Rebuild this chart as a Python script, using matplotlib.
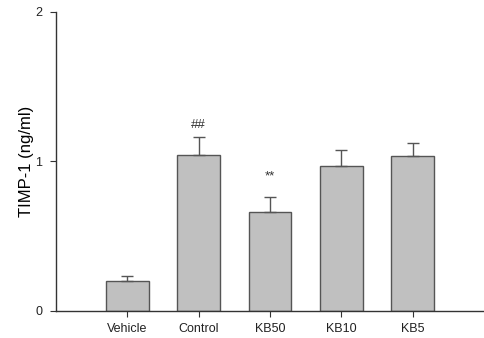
import matplotlib
matplotlib.use("Agg")
import matplotlib.pyplot as plt
import numpy as np

plt.rcParams['font.family'] = ['Liberation Sans', 'DejaVu Sans']

groups = ["Vehicle", "Control", "KB50", "KB10", "KB5"]
timp1 = [0.20, 1.045, 0.662, 0.968, 1.037]
sem = [0.034, 0.121, 0.098, 0.109, 0.087]
marks = ["", "##", "**", "", ""]

fig = plt.figure(figsize=(4.84, 3.38), dpi=100)
ax = fig.add_axes([0.1157, 0.080, 0.8843, 0.885])

x = np.arange(len(groups))
ax.bar(x, timp1, width=0.6, color="#c0c0c0", edgecolor="#555555", linewidth=1.0, zorder=2)
ax.errorbar(x, timp1, yerr=[np.zeros(len(sem)), sem], fmt="none",
            ecolor="#555555", elinewidth=1.0, capsize=4, capthick=1.0, zorder=3)

# significance marks above the error bars
gap = {"##": 0.08, "**": 0.14}
for xi, v, e, m in zip(x, timp1, sem, marks):
    if m:
        ax.text(xi, v + e + gap[m], m, ha="center", va="center", fontsize=9.5, color="#333333")

ax.set_xlim(-1, 5)
ax.set_ylim(0, 2)
ax.set_xticks(x)
ax.set_xticklabels(groups, fontsize=9)
ax.set_yticks([0, 1, 2])
ax.set_yticklabels(["0", "1", "2"], fontsize=9)
ax.set_ylabel("TIMP-1 (ng/ml)", fontsize=12, labelpad=1)

ax.spines["top"].set_visible(False)
ax.spines["right"].set_visible(False)
for s in ("left", "bottom"):
    ax.spines[s].set_color("#333333")
    ax.spines[s].set_linewidth(1.0)
ax.tick_params(direction="out", length=4, color="#333333", labelcolor="#222222")
ax.tick_params(axis="x", pad=5)
ax.tick_params(axis="y", pad=6)

fig.savefig("out.png", dpi=100)
